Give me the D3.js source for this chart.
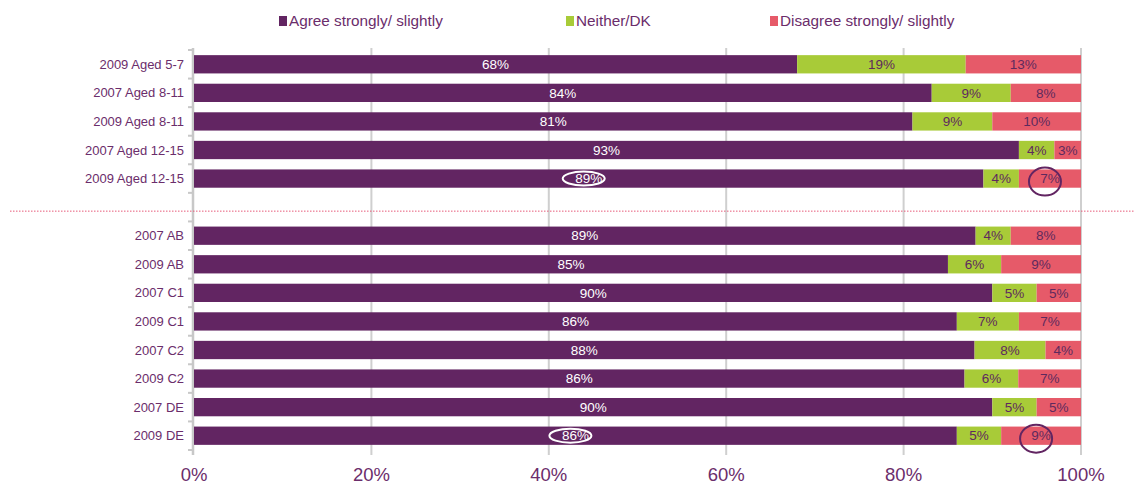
<!DOCTYPE html>
<html>
<head>
<meta charset="utf-8">
<script src="https://cdn.jsdelivr.net/npm/d3@7"></script>
<style>
  body { margin: 0; background: #fff; }
  svg { display: block; font-family: Arial, "Liberation Sans", sans-serif; }
</style>
</head>
<body>
<svg id="chart" width="1135" height="486"></svg>
<script>
// ---- data ----
const categories = [
  "2009 Aged 5-7", "2007 Aged 8-11", "2009 Aged 8-11", "2007 Aged 12-15", "2009 Aged 12-15",
  "",
  "2007 AB", "2009 AB", "2007 C1", "2009 C1", "2007 C2", "2009 C2", "2007 DE", "2009 DE"
];
const seriesNames = ["Agree strongly/ slightly", "Neither/DK", "Disagree strongly/ slightly"];
const agree    = [68, 84, 81, 93, 89, null, 89, 85, 90, 86, 88, 86, 90, 86];
const neither  = [19,  9,  9,  4,  4, null,  4,  6,  5,  7,  8,  6,  5,  5];
const disagree = [13,  8, 10,  3,  7, null,  8,  9,  5,  7,  4,  7,  5,  9];
const xTicks = [0, 20, 40, 60, 80, 100];
const xTickLabels = ["0%", "20%", "40%", "60%", "80%", "100%"];
// highlighted labels: [category, series index]
const highlights = [
  ["2009 Aged 12-15", 0], ["2009 Aged 12-15", 2],
  ["2009 DE", 0], ["2009 DE", 2]
];

const colors = ["#622562", "#a8cb38", "#e65a69"];
const textColor = "#6b2d6b";

const svg = d3.select("#chart");
const margin = { left: 194, right: 54, top: 50, bottom: 36 };
const W = 1135, H = 486;

const x = d3.scaleLinear().domain([0, 100]).range([margin.left, W - margin.right]);
const y = d3.scaleBand().domain(categories.map((c, i) => i)).range([margin.top, 450]).paddingInner(0.36).paddingOuter(0.18);
const yStep = y.step();

// build stacked rows (normalized to 100 so that rounded labels fit)
const rows = categories.map((c, i) => {
  if (agree[i] == null) return null;
  const vals = [agree[i], neither[i], disagree[i]];
  const tot = d3.sum(vals);
  let acc = 0;
  const segs = vals.map((v, k) => {
    const w = v / tot * 100;
    const s = { cat: c, idx: i, k, v, x0: acc, x1: acc + w };
    acc += w;
    return s;
  });
  return segs;
}).filter(d => d);

// gridlines
const gridG = svg.append("g");
gridG.selectAll("line.grid").data(xTicks.slice(1)).join("line")
  .attr("x1", d => x(d)).attr("x2", d => x(d))
  .attr("y1", 48).attr("y2", 455)
  .attr("stroke", "#cfcfcf").attr("stroke-width", 2);

// y axis line & ticks
gridG.append("line").attr("x1", x(0) - 1).attr("x2", x(0) - 1).attr("y1", 48).attr("y2", 455)
  .attr("stroke", "#c8c8c8").attr("stroke-width", 2.5);
const boundaries = d3.range(categories.length + 1).map(i => margin.top + i * yStep);
gridG.selectAll("line.yt").data(boundaries).join("line")
  .attr("x1", x(0) - 6).attr("x2", x(0) - 1)
  .attr("y1", d => d).attr("y2", d => d)
  .attr("stroke", "#c8c8c8").attr("stroke-width", 2);

// separator dotted line
const sepY = y(5) + y.bandwidth() / 2 + 4;
svg.append("line").attr("x1", 10).attr("x2", W).attr("y1", sepY).attr("y2", sepY)
  .attr("stroke", "#e65a7a").attr("stroke-width", 1).attr("stroke-dasharray", "1.5,1.5");

// bars
const segs = rows.flat();
svg.append("g").selectAll("rect").data(segs).join("rect")
  .attr("x", d => x(d.x0))
  .attr("width", d => x(d.x1) - x(d.x0))
  .attr("y", d => y(d.idx))
  .attr("height", y.bandwidth())
  .attr("fill", d => colors[d.k]);

// segment labels
svg.append("g").selectAll("text").data(segs).join("text")
  .attr("x", d => x((d.x0 + d.x1) / 2))
  .attr("y", d => y(d.idx) + y.bandwidth() / 2)
  .attr("dy", "0.35em")
  .attr("text-anchor", "middle")
  .attr("font-size", 13.5)
  .attr("fill", d => d.k === 0 ? "#ffffff" : "#5e2a5e")
  .text(d => d.v + "%");

// category labels
svg.append("g").selectAll("text").data(categories.map((c, i) => ({ c, i })).filter(d => d.c)).join("text")
  .attr("x", x(0) - 10)
  .attr("y", d => y(d.i) + y.bandwidth() / 2)
  .attr("dy", "0.35em")
  .attr("text-anchor", "end")
  .attr("font-size", 13)
  .attr("fill", textColor)
  .text(d => d.c);

// x axis labels
svg.append("g").selectAll("text").data(xTicks).join("text")
  .attr("x", d => x(d))
  .attr("y", 481)
  .attr("text-anchor", "middle")
  .attr("font-size", 18.5)
  .attr("fill", textColor)
  .text((d, i) => xTickLabels[i]);

// highlight ellipses
const hl = highlights.map(([cat, k]) => segs.find(d => d.cat === cat && d.k === k));
svg.append("g").selectAll("ellipse").data(hl).join("ellipse")
  .attr("cx", d => x((d.x0 + d.x1) / 2) - 5)
  .attr("cy", d => y(d.idx) + y.bandwidth() / 2 + (d.k === 0 ? 0 : 3))
  .attr("rx", d => d.k === 0 ? 21 : 16)
  .attr("ry", d => d.k === 0 ? 7 : 14)
  .attr("fill", "none")
  .attr("stroke", d => d.k === 0 ? "#ffffff" : "#622562")
  .attr("stroke-width", 2);

// legend
const legendX = [279, 566, 770];
const lg = svg.append("g").selectAll("g").data(seriesNames).join("g")
  .attr("transform", (d, i) => `translate(${legendX[i]},21)`);
lg.append("rect").attr("x", 0).attr("y", -5).attr("width", 8).attr("height", 10)
  .attr("fill", (d, i) => colors[i]);
lg.append("text").attr("x", 10).attr("dy", "0.35em")
  .attr("font-size", 15.3).attr("fill", textColor).text(d => d);
</script>
</body>
</html>
